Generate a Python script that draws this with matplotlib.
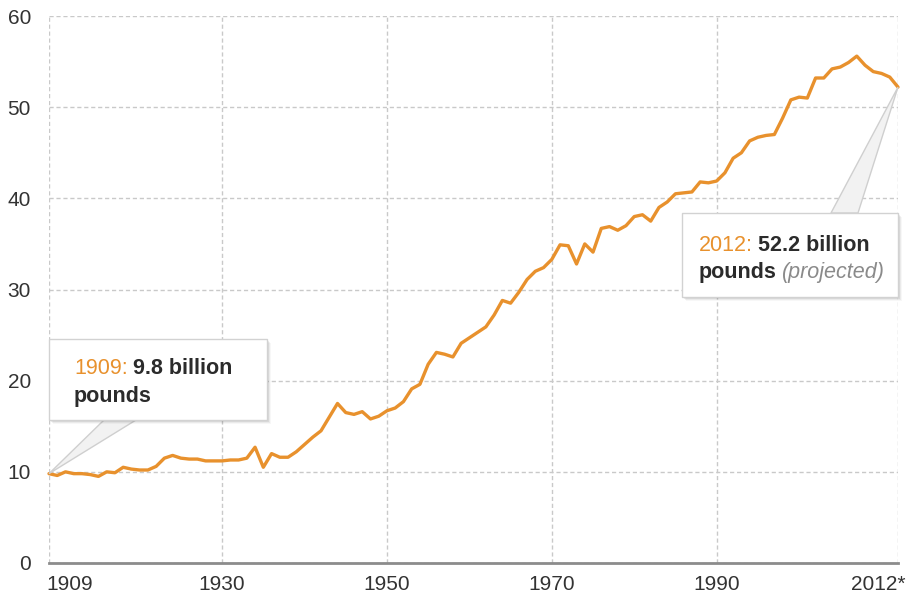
import matplotlib
matplotlib.use('Agg')
import matplotlib.pyplot as plt
from matplotlib.patches import Rectangle, Polygon
from matplotlib.text import Annotation
from matplotlib.transforms import IdentityTransform, ScaledTranslation

# billions of pounds per year, 1909 - 2012 (2012 projected)
YEARS = list(range(1909, 2013))
POUNDS = [
    9.8, 9.6, 10.0, 9.8, 9.8, 9.7, 9.5, 10.0, 9.9, 10.5,        # 1909-1918
    10.3, 10.2, 10.2, 10.6, 11.5, 11.8, 11.5, 11.4, 11.4, 11.2,  # 1919-1928
    11.2, 11.2, 11.3, 11.3, 11.5, 12.7, 10.5, 12.0, 11.6, 11.6,  # 1929-1938
    12.2, 13.0, 13.8, 14.5, 16.0, 17.5, 16.5, 16.3, 16.6, 15.8,  # 1939-1948
    16.1, 16.7, 17.0, 17.7, 19.1, 19.6, 21.8, 23.1, 22.9, 22.6,  # 1949-1958
    24.1, 24.7, 25.3, 25.9, 27.2, 28.8, 28.5, 29.7, 31.1, 32.0,  # 1959-1968
    32.4, 33.3, 34.9, 34.8, 32.8, 35.0, 34.1, 36.7, 36.9, 36.5,  # 1969-1978
    37.0, 38.0, 38.2, 37.5, 39.0, 39.6, 40.5, 40.6, 40.7, 41.8,  # 1979-1988
    41.7, 41.9, 42.8, 44.4, 45.0, 46.3, 46.7, 46.9, 47.0, 48.8,  # 1989-1998
    50.8, 51.1, 51.0, 53.2, 53.2, 54.2, 54.4, 54.9, 55.6, 54.6,  # 1999-2008
    53.9, 53.7, 53.3, 52.2,                                      # 2009-2012
]
XTICKS = [1909, 1930, 1950, 1970, 1990, 2012]
XTICK_LABELS = ['1909', '1930', '1950', '1970', '1990', '2012*']
YTICKS = [0, 10, 20, 30, 40, 50, 60]

ORANGE = '#E8912D'
DARK = '#2b2b2b'
GRID = '#c9c9c9'
FONT = ['Liberation Sans', 'DejaVu Sans']

W, H = 907, 601
fig = plt.figure(figsize=(W / 100, H / 100), dpi=100)
ax = fig.add_axes([49 / W, 1 - 563 / H, (898 - 49) / W, (563 - 16) / H])

ax.plot(YEARS, POUNDS, color=ORANGE, lw=2.4, solid_joinstyle='round',
        solid_capstyle='round', clip_on=False, zorder=3)

ax.set_xlim(YEARS[0], YEARS[-1])
ax.set_ylim(0, 60)
ax.set_xticks(XTICKS)
ax.set_xticklabels(XTICK_LABELS)
ax.set_yticks(YTICKS)
ax.tick_params(length=0, labelsize=15, labelcolor='#333333')
ax.tick_params(axis='x', pad=9)
ax.tick_params(axis='y', pad=13)
for lbl in ax.get_xticklabels() + ax.get_yticklabels():
    lbl.set_family(FONT)
# first and last year labels hug the plot edges
xl = ax.get_xticklabels()
xl[0].set_ha('left')
xl[0].set_transform(xl[0].get_transform() + ScaledTranslation(-3 / 100, 0, fig.dpi_scale_trans))
xl[-1].set_ha('right')
xl[-1].set_transform(xl[-1].get_transform() + ScaledTranslation(7 / 100, 0, fig.dpi_scale_trans))

ax.grid(True, color=GRID, linestyle=(0, (3, 2)), lw=1)
ax.set_axisbelow(True)
for s in ['top', 'left', 'right']:
    ax.spines[s].set_visible(False)
ax.spines['bottom'].set_color('#8c8c8c')
ax.spines['bottom'].set_linewidth(2)
ax.spines['bottom'].set_zorder(4)

ident = IdentityTransform()


def disp(x, y):
    # picture pixels (top-left origin) -> display coords
    return (x, H - y)


def callout(box, base, year, val):
    x0, y0, x1, y1 = box
    tip = ax.transData.transform((year, val))
    pts = [disp(*base[0]), tuple(tip), disp(*base[1])]
    fig.add_artist(Polygon(pts, closed=True, facecolor='#f2f2f2', edgecolor='#cfcfcf',
                           lw=1, transform=ident, zorder=5))
    for k, a in zip([4, 3, 2, 1], [0.03, 0.05, 0.07, 0.09]):
        fig.add_artist(Rectangle(disp(x0 + k, y1 + k), x1 - x0, y1 - y0, facecolor='black',
                                 edgecolor='none', alpha=a, transform=ident, zorder=5))
    fig.add_artist(Rectangle(disp(x0, y1), x1 - x0, y1 - y0, facecolor='white',
                             edgecolor='#d2d2d2', lw=1, transform=ident, zorder=6))


def rich_line(x, y, parts):
    prev = None
    for txt, style in parts:
        kw = dict(fontsize=15.5, family=FONT, zorder=7)
        kw.update(style)
        if prev is None:
            prev = fig.text(*disp(x, y), txt, transform=ident, va='baseline', **kw)
        else:
            prev = fig.add_artist(Annotation(txt, xy=(1, 0), xycoords=prev, xytext=(3.5, 0),
                                             textcoords='offset points', va='bottom',
                                             annotation_clip=False, **kw))


callout((49, 339, 267, 420), [(104, 420), (136, 420)], YEARS[0], POUNDS[0])
rich_line(74, 374, [('1909:', dict(color=ORANGE)),
                    ('9.8 billion', dict(color=DARK, weight='bold'))])
rich_line(74, 402, [('pounds', dict(color=DARK, weight='bold'))])

callout((682, 213, 898, 297), [(831, 213), (858, 213)], YEARS[-1], POUNDS[-1])
rich_line(699, 251, [('2012:', dict(color=ORANGE)),
                     ('52.2 billion', dict(color=DARK, weight='bold'))])
rich_line(699, 278, [('pounds', dict(color=DARK, weight='bold')),
                     ('(projected)', dict(color='#8a8a8a', style='italic'))])

fig.savefig('out.png', dpi=100)
